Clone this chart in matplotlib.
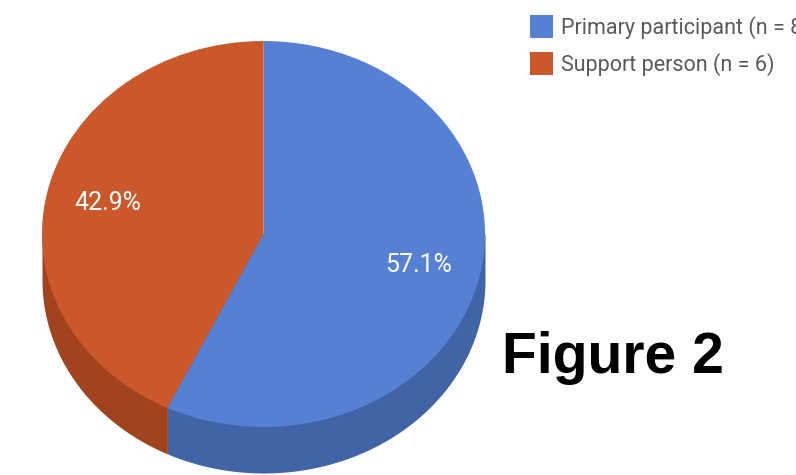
import numpy as np
import matplotlib
matplotlib.use("Agg")
import matplotlib.pyplot as plt
from matplotlib.patches import Rectangle

# ---- data ----
categories = ["Primary participant (n = 8)", "Support person (n = 6)"]
values = [8, 6]
top_colors = ["#5580d4", "#cb582b"]
side_colors = ["#4164a6", "#a2431f"]
title_text = "Figure 2"

W, H = 796, 475
fig = plt.figure(figsize=(W / 100, H / 100), dpi=100)

# pie geometry in pixels
left_px, right_px, top_px, rim_bottom_px, depth_px = 42, 485, 41, 427, 46
ry_px = (rim_bottom_px - top_px) / 2
d = depth_px / ry_px
bottom_px = rim_bottom_px + depth_px

ax = fig.add_axes([left_px / W, (H - bottom_px) / H,
                   (right_px - left_px) / W, (bottom_px - top_px) / H])
ax.set_xlim(-1, 1)
ax.set_ylim(-1 - d, 1)
ax.set_axis_off()

# side (depth) of the pie: front half of each slice
total = float(sum(values))
start = 0.0
for v, c in zip(values, side_colors):
    a0 = start / total * 2 * np.pi
    a1 = (start + v) / total * 2 * np.pi
    start += v
    # angles measured clockwise from 12 o'clock; x = sin(a), y = cos(a)
    lo, hi = max(a0, np.pi / 2), min(a1, 3 * np.pi / 2)
    if hi <= lo:
        continue
    a = np.linspace(lo, hi, 200)
    xs = np.sin(a)
    ys = np.cos(a)
    order = np.argsort(xs)
    xs, ys = xs[order], ys[order]
    ax.fill_between(xs, 0, ys - d, color=c, linewidth=0)

# top face
wedges, texts, autotexts = ax.pie(
    values, colors=top_colors, startangle=90, counterclock=False,
    autopct="%.1f%%", pctdistance=0.72, radius=1,
    wedgeprops=dict(linewidth=0), textprops=dict(color="white", fontsize=18,
                                                  family=["Roboto", "DejaVu Sans"]))
ax.set_aspect("auto")
ax.set_xlim(-1, 1)
ax.set_ylim(-1 - d, 1)

# legend (manual, in pixel coordinates of the figure)
leg_x, leg_y0, leg_dy, sq = 530, 15, 37, 23
for i, (lab, c) in enumerate(zip(categories, top_colors)):
    y = leg_y0 + i * leg_dy
    fig.patches.append(Rectangle((leg_x / W, 1 - (y + sq) / H), sq / W, sq / H,
                                 transform=fig.transFigure, facecolor=c,
                                 edgecolor="none"))
    fig.text(561 / W, 1 - (y + sq / 2 + 1) / H, lab, fontsize=15.5, color="#5a5a5a",
             va="center", ha="left",
             family=["Roboto", "DejaVu Sans"])

fig.text(502 / W, 1 - 373 / H, title_text, fontsize=41, fontweight="bold",
         color="black", ha="left", va="baseline",
         family=["Liberation Sans", "DejaVu Sans"])

fig.savefig("out.png", dpi=100)
